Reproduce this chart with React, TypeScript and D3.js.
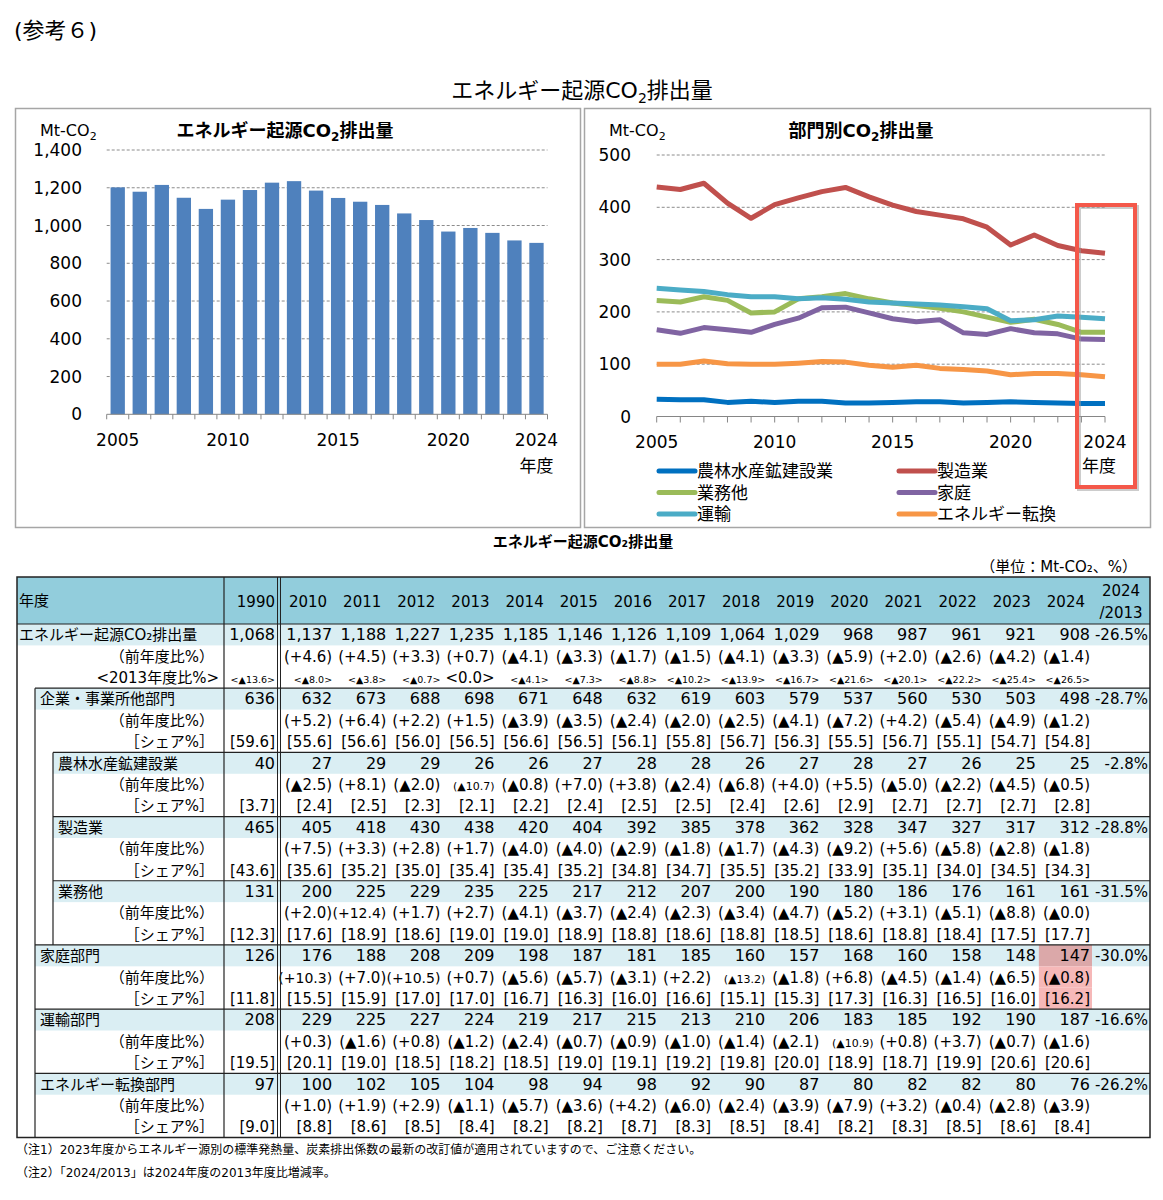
import * as d3 from 'd3';

const FONT = "'DejaVu Sans', 'Noto Sans CJK JP', sans-serif";

// chart data, Mt-CO2 (2005-2009, 2010- from the table)
const chartYears = d3.range(2005, 2025);
const totalCO2 = [1202, 1179, 1215, 1147, 1088, 1137, 1188, 1227, 1235, 1185, 1146, 1126, 1109, 1064, 1029, 968, 987, 961, 921, 908];
const agri = [33, 32, 32, 27, 29, 27, 29, 29, 26, 26, 27, 28, 28, 26, 27, 28, 27, 26, 25, 25];
const mfg = [439, 434, 446, 408, 379, 405, 418, 430, 438, 420, 404, 392, 385, 378, 362, 328, 347, 327, 317, 312];
const biz = [222, 219, 229, 222, 198, 200, 225, 229, 235, 225, 217, 212, 207, 200, 190, 180, 186, 176, 161, 161];
const home = [166, 159, 170, 166, 161, 176, 188, 208, 209, 198, 187, 181, 185, 160, 157, 168, 160, 158, 148, 147];
const transport = [245, 242, 239, 233, 229, 229, 225, 227, 224, 219, 217, 215, 213, 210, 206, 183, 185, 192, 190, 187];
const energy = [100, 100, 106, 101, 100, 100, 102, 105, 104, 98, 94, 98, 92, 90, 87, 80, 82, 82, 80, 76];

const seriesNames = ['農林水産鉱建設業', '製造業', '業務他', '家庭', '運輸', 'エネルギー転換'];
const seriesColors = ['#0070c0', '#c0504d', '#9bbb59', '#8064a2', '#4bacc6', '#f79646'];
const seriesData = [agri, mfg, biz, home, transport, energy];
const labelYears = [2005, 2010, 2015, 2020, 2024];

// table data
const tableYears = d3.range(2010, 2025);
const corp = [632, 673, 688, 698, 671, 648, 632, 619, 603, 579, 537, 560, 530, 503, 498];
const rowNames = ['エネルギー起源CO₂排出量', '企業・事業所他部門', '農林水産鉱建設業', '製造業', '業務他', '家庭部門', '運輸部門', 'エネルギー転換部門'];
const rowLevels = [0, 1, 2, 2, 2, 1, 1, 1];
const values1990 = [1068, 636, 40, 465, 131, 126, 208, 97];
const ratio2013 = ['-26.5%', '-28.7%', '-2.8%', '-28.8%', '-31.5%', '-30.0%', '-16.6%', '-26.2%'];
const yoy = [
  ['+4.6', '+4.5', '+3.3', '+0.7', '▲4.1', '▲3.3', '▲1.7', '▲1.5', '▲4.1', '▲3.3', '▲5.9', '+2.0', '▲2.6', '▲4.2', '▲1.4'],
  ['+5.2', '+6.4', '+2.2', '+1.5', '▲3.9', '▲3.5', '▲2.4', '▲2.0', '▲2.5', '▲4.1', '▲7.2', '+4.2', '▲5.4', '▲4.9', '▲1.2'],
  ['▲2.5', '+8.1', '▲2.0', '▲10.7', '▲0.8', '+7.0', '+3.8', '▲2.4', '▲6.8', '+4.0', '+5.5', '▲5.0', '▲2.2', '▲4.5', '▲0.5'],
  ['+7.5', '+3.3', '+2.8', '+1.7', '▲4.0', '▲4.0', '▲2.9', '▲1.8', '▲1.7', '▲4.3', '▲9.2', '+5.6', '▲5.8', '▲2.8', '▲1.8'],
  ['+2.0', '+12.4', '+1.7', '+2.7', '▲4.1', '▲3.7', '▲2.4', '▲2.3', '▲3.4', '▲4.7', '▲5.2', '+3.1', '▲5.1', '▲8.8', '▲0.0'],
  ['+10.3', '+7.0', '+10.5', '+0.7', '▲5.6', '▲5.7', '▲3.1', '+2.2', '▲13.2', '▲1.8', '+6.8', '▲4.5', '▲1.4', '▲6.5', '▲0.8'],
  ['+0.3', '▲1.6', '+0.8', '▲1.2', '▲2.4', '▲0.7', '▲0.9', '▲1.0', '▲1.4', '▲2.1', '▲10.9', '+0.8', '+3.7', '▲0.7', '▲1.6'],
  ['+1.0', '+1.9', '+2.9', '▲1.1', '▲5.7', '▲3.6', '+4.2', '▲6.0', '▲2.4', '▲3.9', '▲7.9', '+3.2', '▲0.4', '▲2.8', '▲3.9'],
];
const total1990vs2013 = '▲13.6';
const totalVs2013 = ['▲8.0', '▲3.8', '▲0.7', '0.0', '▲4.1', '▲7.3', '▲8.8', '▲10.2', '▲13.9', '▲16.7', '▲21.6', '▲20.1', '▲22.2', '▲25.4', '▲26.5'];
const share1990 = [59.6, 3.7, 43.6, 12.3, 11.8, 19.5, 9.0];
const shares = [
  [55.6, 56.6, 56.0, 56.5, 56.6, 56.5, 56.1, 55.8, 56.7, 56.3, 55.5, 56.7, 55.1, 54.7, 54.8],
  [2.4, 2.5, 2.3, 2.1, 2.2, 2.4, 2.5, 2.5, 2.4, 2.6, 2.9, 2.7, 2.7, 2.7, 2.8],
  [35.6, 35.2, 35.0, 35.4, 35.4, 35.2, 34.8, 34.7, 35.5, 35.2, 33.9, 35.1, 34.0, 34.5, 34.3],
  [17.6, 18.9, 18.6, 19.0, 19.0, 18.9, 18.8, 18.6, 18.8, 18.5, 18.6, 18.8, 18.4, 17.5, 17.7],
  [15.5, 15.9, 17.0, 17.0, 16.7, 16.3, 16.0, 16.6, 15.1, 15.3, 17.3, 16.3, 16.5, 16.0, 16.2],
  [20.1, 19.0, 18.5, 18.2, 18.5, 19.0, 19.1, 19.2, 19.8, 20.0, 18.9, 18.7, 19.9, 20.6, 20.6],
  [8.8, 8.6, 8.5, 8.4, 8.2, 8.2, 8.7, 8.3, 8.5, 8.4, 8.2, 8.3, 8.5, 8.6, 8.4],
];
const notes = [
  '（注1）2023年度からエネルギー源別の標準発熱量、炭素排出係数の最新の改訂値が適用されていますので、ご注意ください。',
  '（注2）「2024/2013」は2024年度の2013年度比増減率。',
];

const tableValues = [totalCO2.slice(5), corp, agri.slice(5), mfg.slice(5), biz.slice(5), home.slice(5), transport.slice(5), energy.slice(5)];

interface IRow {
  kind: 'value' | 'yoy' | 'share' | 'base';
  group: number;
  label: string;
  base: string;
  cells: string[];
}

const fmt = d3.format(',');
const rows: IRow[] = [];
rowNames.forEach((name, g) => {
  rows.push({ kind: 'value', group: g, label: name, base: fmt(values1990[g]), cells: tableValues[g].map(fmt) });
  rows.push({ kind: 'yoy', group: g, label: '（前年度比%）', base: '', cells: yoy[g].map((s) => `(${s})`) });
  if (g === 0) {
    rows.push({ kind: 'base', group: g, label: '<2013年度比%>', base: `<${total1990vs2013}>`, cells: totalVs2013.map((s) => `<${s}>`) });
  } else {
    rows.push({ kind: 'share', group: g, label: '［シェア%］', base: `[${share1990[g - 1].toFixed(1)}]`, cells: shares[g - 1].map((v) => `[${v.toFixed(1)}]`) });
  }
});

const cellFont = (kind: string, text: string) => {
  if (kind === 'base') return text === '<0.0>' ? 15 : 9.5;
  if (kind === 'value') return 16;
  if (kind === 'yoy' && text.length >= 7) return text.includes('▲') ? 11 : 14;
  return 15;
};

const BarChart = () => {
  const x = d3.scaleBand<number>().domain(chartYears).range([106.7, 547.5]).paddingInner(0.35).paddingOuter(0.175);
  const y = d3.scaleLinear().domain([0, 1400]).range([414.3, 150]);
  return (
    <g>
      <rect x={15.5} y={108.5} width={565} height={419} fill="white" stroke="#a6a6a6" strokeWidth={1.5} />
      {y.ticks(7).filter((t) => t > 0).map((t) => (
        <line key={t} x1={x.range()[0]} x2={x.range()[1]} y1={y(t)} y2={y(t)} stroke="#8c8c8c" strokeDasharray="3,2" />
      ))}
      {chartYears.map((yr, i) => (
        <rect key={yr} x={x(yr)} y={y(totalCO2[i])} width={x.bandwidth()} height={y(0) - y(totalCO2[i])} fill="#4f81bd" />
      ))}
      <line x1={x.range()[0]} x2={x.range()[1]} y1={y(0)} y2={y(0)} stroke="#868686" />
      {[...chartYears, 2025].map((yr, i) => {
        const xx = x.range()[0] + i * x.step();
        return <line key={yr} x1={xx} x2={xx} y1={y(0)} y2={y(0) + 5} stroke="#868686" />;
      })}
      {y.ticks(7).map((t) => (
        <text key={t} x={82} y={y(t) + 6} textAnchor="end" fontSize={17}>{fmt(t)}</text>
      ))}
      {labelYears.map((yr) => (
        <text key={yr} x={(x(yr) ?? 0) + x.bandwidth() / 2} y={446} textAnchor="middle" fontSize={17}>{yr}</text>
      ))}
      <text x={(x(2024) ?? 0) + x.bandwidth() / 2} y={472} textAnchor="middle" fontSize={17}>年度</text>
      <text x={40} y={136} fontSize={16}>Mt-CO<tspan fontSize={11} dy={4}>2</tspan></text>
      <text x={285} y={137} textAnchor="middle" fontSize={18} fontWeight="bold">
        エネルギー起源CO<tspan fontSize={12} dy={4}>2</tspan><tspan dy={-4}>排出量</tspan>
      </text>
    </g>
  );
};

const LineChart = () => {
  const x = d3.scalePoint<number>().domain(chartYears).range([656.7, 1105]);
  const y = d3.scaleLinear().domain([0, 500]).range([416.5, 155]);
  const line = d3.line<number>().x((_, i) => x(chartYears[i]) ?? 0).y((d) => y(d));
  const x24 = x(2024) ?? 0;
  return (
    <g>
      <rect x={584.5} y={108.5} width={566} height={419} fill="white" stroke="#a6a6a6" strokeWidth={1.5} />
      {y.ticks(5).filter((t) => t > 0).map((t) => (
        <line key={t} x1={x.range()[0]} x2={x.range()[1]} y1={y(t)} y2={y(t)} stroke="#8c8c8c" strokeDasharray="3,2" />
      ))}
      <line x1={x.range()[0]} x2={x.range()[1]} y1={y(0)} y2={y(0)} stroke="#868686" />
      {chartYears.map((yr) => (
        <line key={yr} x1={x(yr)} x2={x(yr)} y1={y(0)} y2={y(0) + 6} stroke="#868686" />
      ))}
      {seriesData.map((d, i) => (
        <path key={seriesNames[i]} d={line(d) ?? ''} fill="none" stroke={seriesColors[i]} strokeWidth={5} strokeLinejoin="round" />
      ))}
      {y.ticks(5).map((t) => (
        <text key={t} x={631} y={y(t) + 6} textAnchor="end" fontSize={17}>{t}</text>
      ))}
      {labelYears.map((yr) => (
        <text key={yr} x={x(yr)} y={448} textAnchor="middle" fontSize={17}>{yr}</text>
      ))}
      <text x={x24 - 6} y={472} textAnchor="middle" fontSize={17}>年度</text>
      <text x={609} y={136} fontSize={16}>Mt-CO<tspan fontSize={11} dy={4}>2</tspan></text>
      <text x={861} y={137} textAnchor="middle" fontSize={18} fontWeight="bold">
        部門別CO<tspan fontSize={12} dy={4}>2</tspan><tspan dy={-4}>排出量</tspan>
      </text>
      {/* legend, two columns */}
      {seriesNames.map((name, i) => {
        const col = i % 2;
        const row = Math.floor(i / 2);
        const lx = 659 + col * 240;
        const ly = 471 + row * 21.5;
        return (
          <g key={name}>
            <line x1={lx} x2={lx + 36} y1={ly} y2={ly} stroke={seriesColors[i]} strokeWidth={5} strokeLinecap="round" />
            <text x={lx + 38} y={ly + 6} fontSize={17}>{name}</text>
          </g>
        );
      })}
      {/* highlight box on 2024 */}
      <rect x={x24 - 26} y={207} width={58} height={282} fill="none" stroke="#9a9a9a" strokeWidth={4} opacity={0.5} />
      <rect x={x24 - 28} y={205} width={58} height={282} fill="none" stroke="#f4584a" strokeWidth={4} />
    </g>
  );
};

const DataTable = () => {
  const left = 17;
  const right = 1150;
  const top = 577;
  const headBottom = 624;
  const bottom = 1137.5;
  const boxX = [17, 35, 53];
  const labelX = [19, 40, 58];
  const rowY = d3.scaleBand<number>().domain(d3.range(rows.length)).range([headBottom, bottom]);
  const colX = d3.scaleBand<number>().domain(tableYears).range([281, 1093]);
  const h = rowY.bandwidth();
  const line = '#222';
  return (
    <g>
      <text x={583} y={547} textAnchor="middle" fontSize={15} fontWeight="bold">エネルギー起源CO₂排出量</text>
      <text x={1137} y={572} textAnchor="end" fontSize={15}>（単位：Mt-CO₂、%）</text>
      <rect x={left} y={top} width={right - left} height={headBottom - top} fill="#92cddc" />
      {rows.map((r, i) => {
        if (r.kind !== 'value') return null;
        const lv = rowLevels[r.group];
        return <rect key={i} x={boxX[lv]} y={rowY(i)} width={right - boxX[lv]} height={h} fill="#daeef3" />;
      })}
      {/* highlighted 2024 household cells */}
      {rows.map((r, i) => {
        if (r.group !== 5) return null;
        return (
          <rect key={`h${i}`} x={colX(2024)} y={rowY(i)} width={colX.bandwidth() - 1} height={h}
            fill={r.kind === 'value' ? '#dba8a9' : '#f6b8b8'} />
        );
      })}
      {/* header */}
      <text x={19} y={606} fontSize={15}>年度</text>
      <text x={275} y={607} textAnchor="end" fontSize={15}>1990</text>
      {tableYears.map((yr) => (
        <text key={yr} x={(colX(yr) ?? 0) + colX.bandwidth() / 2} y={607} textAnchor="middle" fontSize={15}>{yr}</text>
      ))}
      <text x={1121} y={596} textAnchor="middle" fontSize={15}>2024</text>
      <text x={1121} y={618} textAnchor="middle" fontSize={15}>/2013</text>
      {/* rows */}
      {rows.map((r, i) => {
        const cy = (rowY(i) ?? 0) + h / 2;
        const lv = rowLevels[r.group];
        return (
          <g key={`r${i}`}>
            {r.kind === 'value' ? (
              <text x={labelX[lv]} y={cy + 5.5} fontSize={15}>{r.label}</text>
            ) : (
              <text x={r.kind === 'base' ? 219 : 214} y={cy + 5.5} textAnchor="end" fontSize={15}>{r.label}</text>
            )}
            {r.base && (
              <text x={275} y={cy + 5.5} textAnchor="end" fontSize={cellFont(r.kind, r.base)}>{r.base}</text>
            )}
            {r.cells.map((c, j) => (
              <text key={j} x={(colX(tableYears[j]) ?? 0) + colX.bandwidth() - 3} y={cy + 5.5}
                textAnchor="end" fontSize={cellFont(r.kind, c)}>{c}</text>
            ))}
            {r.kind === 'value' && (
              <text x={1148} y={cy + 5.5} textAnchor="end" fontSize={15}>{ratio2013[r.group]}</text>
            )}
          </g>
        );
      })}
      {/* rules */}
      <line x1={left} x2={right} y1={headBottom} y2={headBottom} stroke={line} strokeWidth={1.2} />
      {rowNames.map((_, g) => {
        if (g === 0) return null;
        const yy = rowY(g * 3) ?? 0;
        return <line key={g} x1={boxX[rowLevels[g]]} x2={right} y1={yy} y2={yy} stroke={line} strokeWidth={1.2} />;
      })}
      <line x1={35} x2={35} y1={rowY(3)} y2={bottom} stroke={line} strokeWidth={1.2} />
      <line x1={53} x2={53} y1={rowY(6)} y2={rowY(15)} stroke={line} strokeWidth={1.2} />
      <line x1={224} x2={224} y1={top} y2={bottom} stroke={line} strokeWidth={1.2} />
      <line x1={277.5} x2={277.5} y1={top} y2={bottom} stroke={line} strokeWidth={1} />
      <line x1={280.5} x2={280.5} y1={top} y2={bottom} stroke={line} strokeWidth={1} />
      <rect x={left} y={top} width={right - left} height={bottom - top} fill="none" stroke={line} strokeWidth={1.5} />
      {notes.map((n, i) => (
        <text key={i} x={16} y={1154 + i * 23} fontSize={12}>{n}</text>
      ))}
    </g>
  );
};

const App = () => {
  return (
    <svg width={1163} height={1200} fontFamily={FONT} fill="#000"
      style={{ position: 'absolute', left: 0, top: 0, display: 'block' }}>
      <rect width={1163} height={1200} fill="white" />
      <text x={14} y={38} fontSize={22}>(参考６)</text>
      <text x={582} y={98} textAnchor="middle" fontSize={22}>
        エネルギー起源CO<tspan fontSize={14} dy={5}>2</tspan><tspan dy={-5}>排出量</tspan>
      </text>
      <BarChart />
      <LineChart />
      <DataTable />
    </svg>
  );
};

export default App;
